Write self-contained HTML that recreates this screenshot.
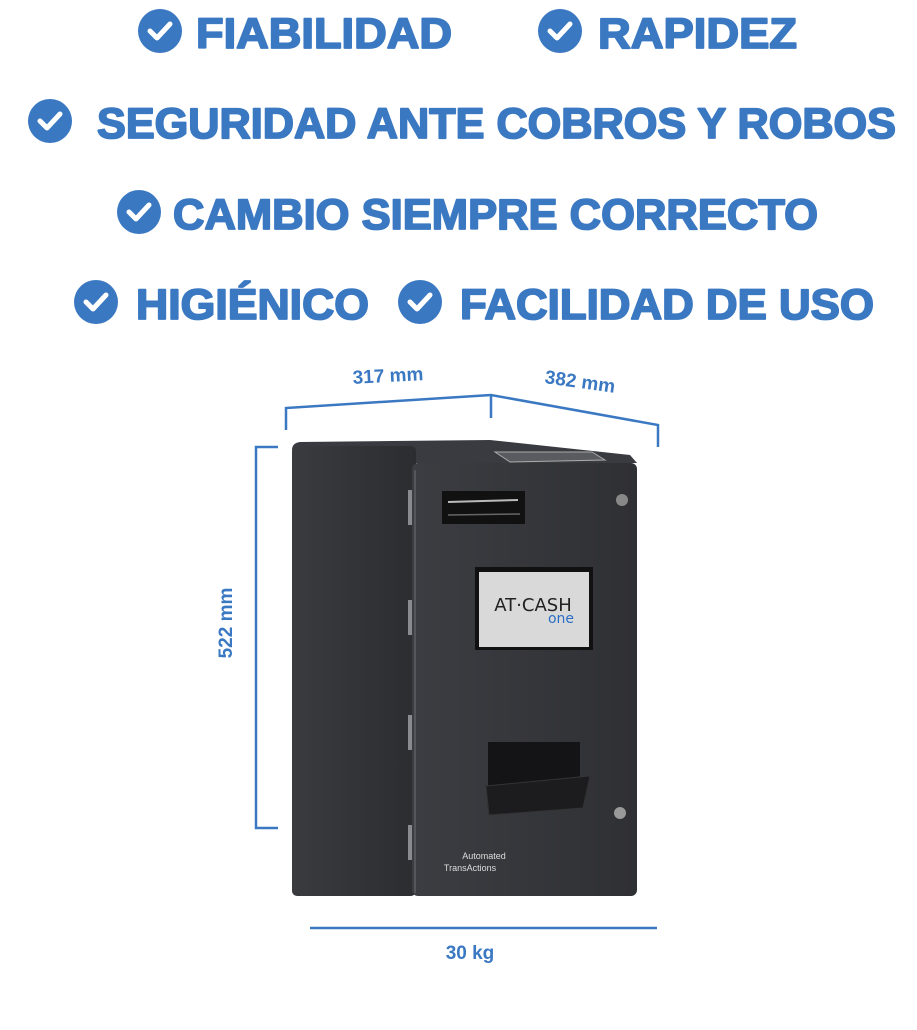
<!DOCTYPE html>
<html><head><meta charset="utf-8"><style>
html,body{margin:0;padding:0;background:#fff;width:917px;height:1030px;overflow:hidden}
</style></head><body>
<svg width="917" height="1030" viewBox="0 0 917 1030" xmlns="http://www.w3.org/2000/svg">
<defs>
<g id="ck"><circle r="22" fill="#3a78c2"/><path d="M-10 0 L-3 7 L10 -7" stroke="#fff" stroke-width="5" fill="none" stroke-linecap="round" stroke-linejoin="round"/></g>
<linearGradient id="side" x1="0" x2="1"><stop offset="0" stop-color="#3a3b3f"/><stop offset="1" stop-color="#2c2d31"/></linearGradient>
<linearGradient id="front" x1="0" x2="1"><stop offset="0" stop-color="#3c3d42"/><stop offset="1" stop-color="#2f3034"/></linearGradient>
</defs>
<g font-family="Liberation Sans, sans-serif" font-weight="bold" fill="#3a78c2" stroke="#3a78c2" stroke-width="1.8" stroke-linejoin="round" font-size="43">
<use href="#ck" x="160" y="31" stroke="none"/><text x="196" y="48" textLength="256" lengthAdjust="spacingAndGlyphs">FIABILIDAD</text>
<use href="#ck" x="560" y="31" stroke="none"/><text x="598" y="48" textLength="199" lengthAdjust="spacingAndGlyphs">RAPIDEZ</text>
<use href="#ck" x="50" y="121" stroke="none"/><text x="97" y="138" textLength="799" lengthAdjust="spacingAndGlyphs">SEGURIDAD ANTE COBROS Y ROBOS</text>
<use href="#ck" x="139" y="212" stroke="none"/><text x="173" y="229" textLength="645" lengthAdjust="spacingAndGlyphs">CAMBIO SIEMPRE CORRECTO</text>
<use href="#ck" x="96" y="302" stroke="none"/><text x="136" y="319" textLength="233" lengthAdjust="spacingAndGlyphs">HIGIÉNICO</text>
<use href="#ck" x="420" y="302" stroke="none"/><text x="460" y="319" textLength="414" lengthAdjust="spacingAndGlyphs">FACILIDAD DE USO</text>
</g>
<g stroke="#3a78c2" stroke-width="2.5" fill="none">
<polyline points="286,430 286,408 491,395 658,425 658,447"/>
<line x1="491" y1="395" x2="491" y2="418"/>
<polyline points="278,447 256,447 256,828 278,828"/>
<line x1="310" y1="928" x2="657" y2="928"/>
</g>
<g font-family="Liberation Sans, sans-serif" font-weight="bold" fill="#3a78c2" font-size="19">
<text x="388" y="382" text-anchor="middle" transform="rotate(-3 388 376)">317 mm</text>
<text x="580" y="388" text-anchor="middle" transform="rotate(8 580 382)">382 mm</text>
<text x="232" y="623" text-anchor="middle" transform="rotate(-90 232 623)">522 mm</text>
<text x="470" y="959" text-anchor="middle">30 kg</text>
</g>
<path d="M292 450 Q292 443 300 442 L490 440 L630 455 L637 463 L415 463 Z" fill="#3a3b40"/>
<rect x="292" y="446" width="124" height="450" rx="5" fill="url(#side)"/>
<rect x="412" y="463" width="225" height="433" rx="6" fill="url(#front)"/>
<line x1="415" y1="470" x2="415" y2="893" stroke="#55565b" stroke-width="2"/>
<rect x="408" y="490" width="4" height="35" fill="#8a8b90"/>
<rect x="408" y="600" width="4" height="35" fill="#8a8b90"/>
<rect x="408" y="715" width="4" height="35" fill="#8a8b90"/>
<rect x="408" y="825" width="4" height="35" fill="#8a8b90"/>
<path d="M495 452 L592 452 L605 460 L510 462 Z" fill="#5a5b60" stroke="#aaa" stroke-width="1"/>
<rect x="442" y="491" width="83" height="33" fill="#111"/>
<line x1="448" y1="502" x2="518" y2="500" stroke="#bbb" stroke-width="2"/>
<line x1="448" y1="515" x2="520" y2="514" stroke="#666" stroke-width="1.5"/>
<circle cx="622" cy="500" r="6" fill="#888"/>
<rect x="475" y="567" width="118" height="83" fill="#111"/>
<rect x="479" y="572" width="110" height="75" fill="#d9d9d9"/>
<text x="533" y="611" text-anchor="middle" font-family="DejaVu Sans, sans-serif" font-size="18" fill="#222">AT·CASH</text>
<text x="561" y="623" text-anchor="middle" font-family="DejaVu Sans, sans-serif" font-size="14" fill="#2a6fc6">one</text>
<rect x="488" y="742" width="92" height="45" fill="#141416"/>
<path d="M486 786 L590 776 L583 808 L489 815 Z" fill="#1c1c1f" stroke="#333"/>
<circle cx="620" cy="813" r="6" fill="#999"/>
<text x="484" y="859" text-anchor="middle" font-family="Liberation Sans, sans-serif" font-size="9" fill="#ddd">Automated</text>
<text x="470" y="871" text-anchor="middle" font-family="Liberation Sans, sans-serif" font-size="9" fill="#ddd">TransActions</text>
</svg>
</body></html>
